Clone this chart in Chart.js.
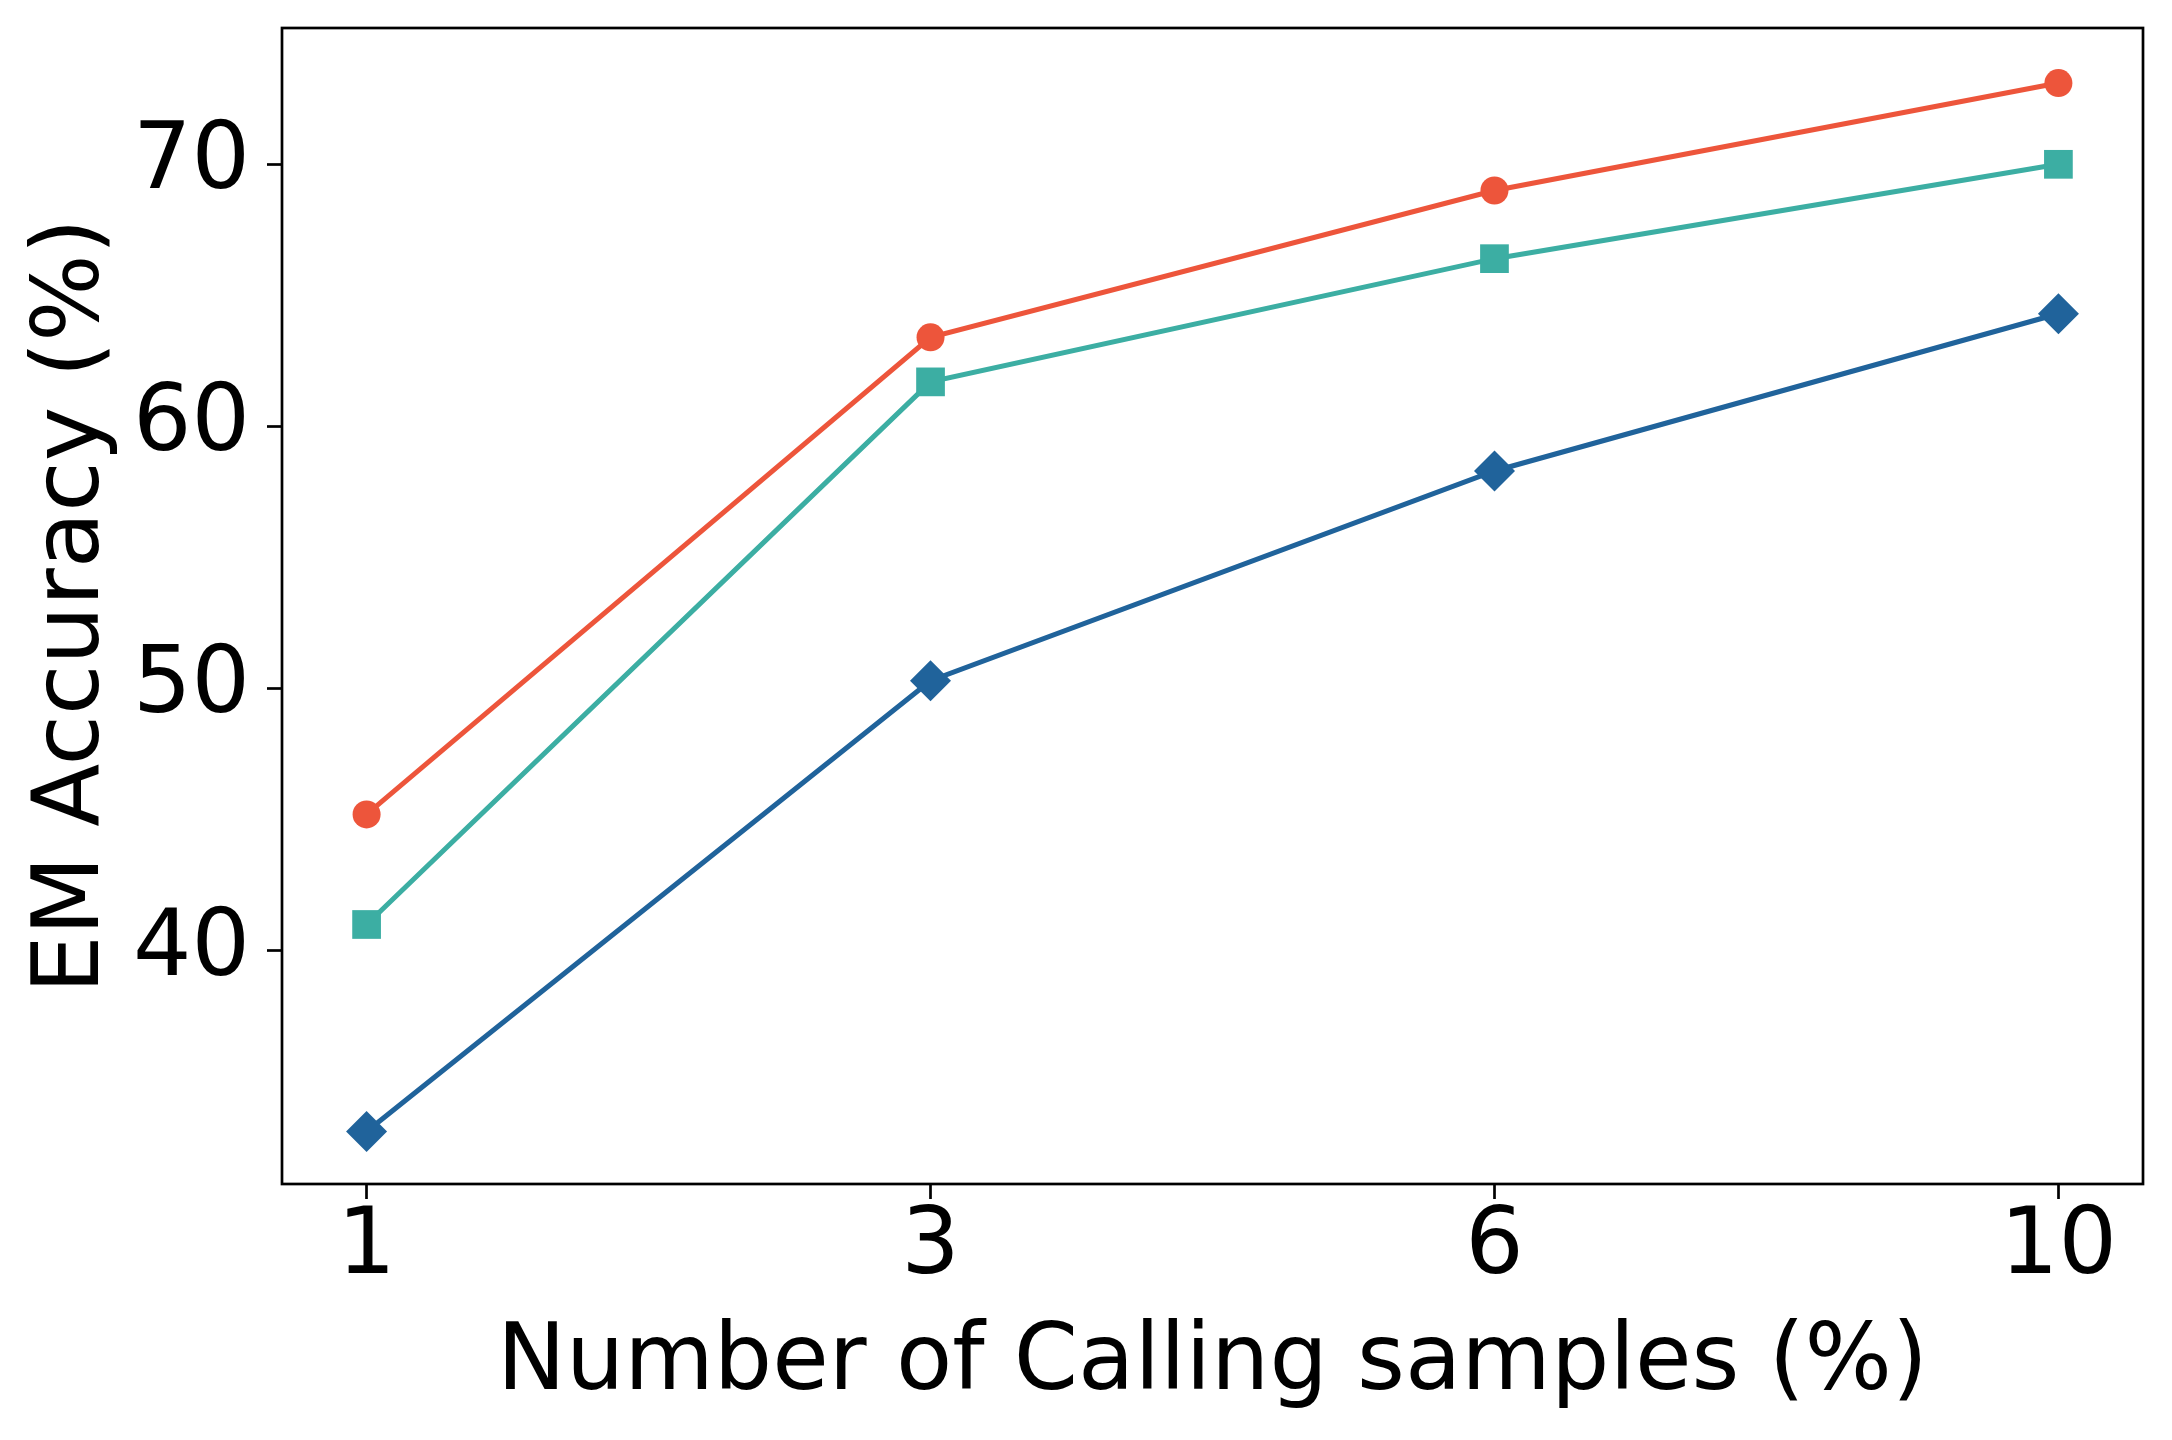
<!DOCTYPE html>
<html>
<head>
<meta charset="utf-8">
<script src="https://cdn.jsdelivr.net/npm/chart.js@4"></script>
<style>
  html, body { margin: 0; padding: 0; background: #fff; }
  #wrap { width: 2172px; height: 1440px; position: relative; }
</style>
</head>
<body>
<div id="wrap"><canvas id="grafico"></canvas></div>
<script>
// dados
const amostras = ['1', '3', '6', '10'];
const serieVermelha = [45.2, 63.4, 69.0, 73.1];
const serieVerde = [41.0, 61.7, 66.4, 70.0];
const serieAzul = [33.1, 50.3, 58.3, 64.3];
const ticksY = [40, 50, 60, 70];

const pontos = valores => valores.map((v, i) => ({ x: i, y: v }));

// moldura em volta da area do grafico
const moldura = {
    id: 'moldura',
    afterDraw(chart) {
        const { ctx, chartArea: a } = chart;
        ctx.save();
        ctx.strokeStyle = '#000';
        ctx.lineWidth = 2.7;
        ctx.strokeRect(a.left, a.top, a.right - a.left, a.bottom - a.top);
        ctx.restore();
    }
};

const fonte = { family: 'DejaVu Sans', size: 92, lineHeight: 1 };

function serie(label, valores, cor, estilo, raio) {
    return {
        label: label,
        data: pontos(valores),
        borderColor: cor,
        backgroundColor: cor,
        borderWidth: 5,
        pointStyle: estilo,
        pointRadius: raio,
        pointHoverRadius: raio,
        pointBorderWidth: 0,
        tension: 0
    };
}

new Chart(document.getElementById('grafico'), {
    type: 'line',
    data: {
        datasets: [
            serie('Azul', serieAzul, '#20639B', 'rectRot', 20.5),
            serie('Verde', serieVerde, '#3CAEA3', 'rect', 20.3),
            serie('Vermelha', serieVermelha, '#ED553B', 'circle', 14)
        ]
    },
    options: {
        responsive: true,
        maintainAspectRatio: false,
        animation: false,
        devicePixelRatio: 1,
        layout: { padding: { top: 28, right: 29, left: 0, bottom: 0 } },
        plugins: { legend: { display: false }, tooltip: { enabled: false } },
        scales: {
            x: {
                type: 'linear',
                min: -0.15,
                max: 3.15,
                afterBuildTicks: s => { s.ticks = amostras.map((_, i) => ({ value: i })); },
                afterFit: s => { s.height = 256; s.paddingLeft = 0; s.paddingRight = 0; },
                ticks: {
                    callback: v => amostras[v],
                    color: '#000',
                    font: fonte,
                    padding: 4,
                    maxRotation: 0
                },
                grid: { drawOnChartArea: false, drawTicks: true, tickLength: 15, tickWidth: 2.7, tickColor: '#000' },
                border: { display: false },
                title: {
                    display: true,
                    text: 'Number of Calling samples (%)',
                    color: '#000',
                    font: fonte,
                    padding: { top: 0, bottom: 29 }
                }
            },
            y: {
                min: 31.1,
                max: 75.2,
                afterBuildTicks: s => { s.ticks = ticksY.map(v => ({ value: v })); },
                afterFit: s => { s.width = 282; s.paddingTop = 0; s.paddingBottom = 0; },
                ticks: { color: '#000', font: fonte, padding: 17 },
                grid: { drawOnChartArea: false, drawTicks: true, tickLength: 15, tickWidth: 2.7, tickColor: '#000' },
                border: { display: false },
                title: {
                    display: true,
                    text: 'EM Accuracy (%)',
                    color: '#000',
                    font: fonte,
                    padding: { top: 28, bottom: 0 }
                }
            }
        }
    },
    plugins: [moldura]
});
</script>
</body>
</html>
